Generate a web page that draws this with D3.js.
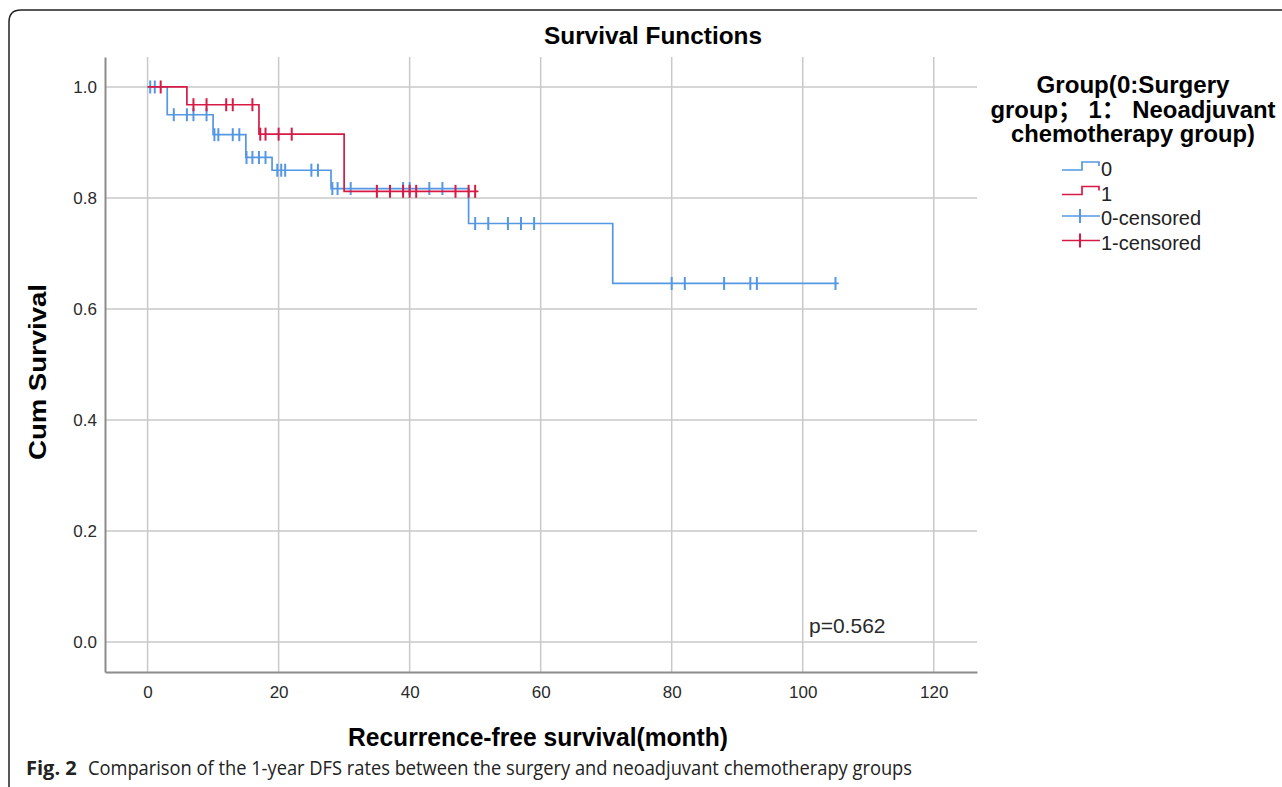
<!DOCTYPE html>
<html>
<head>
<meta charset="utf-8">
<script src="https://cdn.jsdelivr.net/npm/d3@7"></script>
<style>
  body { margin: 0; background: #fff; }
  svg { display: block; }
</style>
</head>
<body>
<div id="chart"></div>
<script>
// group 0 = surgery, group 1 = neoadjuvant chemotherapy
const group0Times = [0, 3, 10, 15, 19, 28, 49, 71];
const group0Surv = [1.0, 0.95, 0.914, 0.873, 0.85, 0.817, 0.754, 0.646];
const group0LastTime = 105.5;
const group0Censored = [0.4, 1.1, 4, 6, 7, 9, 10.2, 10.8, 13, 14, 15.1, 16, 17, 18, 19.8, 20.4, 21, 25, 26,
  28.2, 29, 31, 39, 40, 43, 45, 50, 52, 55, 57, 59, 80, 82, 88, 92, 93, 105];

const group1Times = [0, 6, 17, 30];
const group1Surv = [1.0, 0.968, 0.915, 0.812];
const group1LastTime = 50.5;
const group1Censored = [2, 7, 9, 12, 13, 16, 17.2, 18, 20, 22, 35, 37, 39, 40, 41, 47, 49, 50];

const xTicks = [0, 20, 40, 60, 80, 100, 120];
const yTicks = [0, 0.2, 0.4, 0.6, 0.8, 1.0];
const legendTitleLines = ['Group(0:Surgery', 'group； 1： Neoadjuvant', 'chemotherapy group)'];
const legendLabels = ['0', '1', '0-censored', '1-censored'];
const pValueText = 'p=0.562';

const width = 1282;
const height = 787;
const blue = '#5497e3';
const red = '#d71a45';
const font = '"Liberation Sans", Arial, "Noto Sans CJK SC", sans-serif';

const svg = d3.select('#chart').append('svg')
  .attr('width', width)
  .attr('height', height)
  .style('font-family', font);

// caption frame (rounded corner at top-left)
svg.append('path')
  .attr('d', 'M9,787 V22 Q9,10 21,10 H1282')
  .attr('fill', 'none')
  .attr('stroke', '#222')
  .attr('stroke-width', 1.5);

const x = d3.scaleLinear().domain([-6.5, 126.6]).range([105, 977]);
const y = d3.scaleLinear().domain([-0.054, 1.054]).range([672, 57]);

// grid
svg.append('g').selectAll('line')
  .data(xTicks)
  .enter().append('line')
  .attr('x1', d => x(d)).attr('x2', d => x(d))
  .attr('y1', y.range()[1]).attr('y2', y.range()[0])
  .attr('stroke', '#c9c9c9')
  .attr('stroke-width', 1.5);

svg.append('g').selectAll('line')
  .data(yTicks)
  .enter().append('line')
  .attr('x1', x.range()[0]).attr('x2', x.range()[1])
  .attr('y1', d => y(d)).attr('y2', d => y(d))
  .attr('stroke', '#c9c9c9')
  .attr('stroke-width', 1.5);

// axes
const xAxis = svg.append('g')
  .attr('transform', `translate(0,${y.range()[0]})`)
  .call(d3.axisBottom(x).tickValues(xTicks).tickSize(0).tickPadding(14).tickFormat(d3.format('d')));

const yAxis = svg.append('g')
  .attr('transform', `translate(${x.range()[0]},0)`)
  .call(d3.axisLeft(y).tickValues(yTicks).tickSize(0).tickPadding(8).tickFormat(d3.format('.1f')));

[xAxis, yAxis].forEach(a => {
  a.select('.domain').attr('stroke', '#8c8c8c').attr('stroke-width', 2);
  a.selectAll('text')
    .style('font-family', font)
    .style('font-size', '17px')
    .attr('fill', '#2a2a2a');
});

// survival curves
function stepPoints(times, surv, last) {
  const pts = times.map((t, i) => [t, surv[i]]);
  pts.push([last, surv[surv.length - 1]]);
  return pts;
}

function survAt(times, surv, t) {
  return surv[d3.bisectRight(times, t) - 1];
}

const line = d3.line()
  .x(d => x(d[0]))
  .y(d => y(d[1]))
  .curve(d3.curveStepAfter);

const groups = [
  { times: group0Times, surv: group0Surv, last: group0LastTime, censored: group0Censored, color: blue },
  { times: group1Times, surv: group1Surv, last: group1LastTime, censored: group1Censored, color: red }
];

groups.forEach(g => {
  svg.append('path')
    .datum(stepPoints(g.times, g.surv, g.last))
    .attr('d', line)
    .attr('fill', 'none')
    .attr('stroke', g.color)
    .attr('stroke-width', 1.7);

  svg.append('g').selectAll('line')
    .data(g.censored)
    .enter().append('line')
    .attr('x1', d => x(d)).attr('x2', d => x(d))
    .attr('y1', d => y(survAt(g.times, g.surv, d)) - 6.5)
    .attr('y2', d => y(survAt(g.times, g.surv, d)) + 6.5)
    .attr('stroke', g.color)
    .attr('stroke-width', 2);
});

// p value
svg.append('text')
  .attr('x', 809)
  .attr('y', 633)
  .style('font-size', '21px')
  .attr('fill', '#2a2a2a')
  .text(pValueText);

// titles
svg.append('text')
  .attr('x', 653)
  .attr('y', 44)
  .attr('text-anchor', 'middle')
  .style('font-size', '24px')
  .style('font-weight', 'bold')
  .attr('textLength', 218)
  .attr('lengthAdjust', 'spacingAndGlyphs')
  .text('Survival Functions');

svg.append('text')
  .attr('transform', 'translate(46,372) rotate(-90)')
  .attr('text-anchor', 'middle')
  .style('font-size', '24px')
  .style('font-weight', 'bold')
  .attr('textLength', 176)
  .attr('lengthAdjust', 'spacingAndGlyphs')
  .text('Cum Survival');

svg.append('text')
  .attr('x', 538)
  .attr('y', 746)
  .attr('text-anchor', 'middle')
  .style('font-size', '25px')
  .style('font-weight', 'bold')
  .attr('textLength', 380)
  .attr('lengthAdjust', 'spacingAndGlyphs')
  .text('Recurrence-free survival(month)');

// legend
const legendTitleWidths = [193, 285, 244];
svg.append('g').selectAll('text')
  .data(legendTitleLines)
  .enter().append('text')
  .attr('x', 1133)
  .attr('y', (d, i) => 93 + i * 24.5)
  .attr('text-anchor', 'middle')
  .style('font-size', '24px')
  .style('font-weight', 'bold')
  .attr('textLength', (d, i) => legendTitleWidths[i])
  .attr('lengthAdjust', 'spacingAndGlyphs')
  .text(d => d);

const legendColors = [blue, red, blue, red];
const legendItem = svg.append('g').selectAll('g')
  .data(legendLabels)
  .enter().append('g')
  .attr('transform', (d, i) => `translate(1062,${176 + i * 24.5})`);

legendItem.each(function (d, i) {
  const g = d3.select(this);
  if (i < 2) {
    g.append('path')
      .attr('d', 'M0,-6 H20 V-14 H37 V-10')
      .attr('fill', 'none')
      .attr('stroke', legendColors[i])
      .attr('stroke-width', 1.7);
  } else {
    g.append('line')
      .attr('x1', 0).attr('x2', 38)
      .attr('y1', -9).attr('y2', -9)
      .attr('stroke', legendColors[i])
      .attr('stroke-width', 1.7);
    g.append('line')
      .attr('x1', 18).attr('x2', 18)
      .attr('y1', -16).attr('y2', -2)
      .attr('stroke', legendColors[i])
      .attr('stroke-width', 2);
  }
  g.append('text')
    .attr('x', 39)
    .attr('y', 0)
    .style('font-size', '20px')
    .attr('fill', '#222')
    .text(d);
});

// figure caption
const caption = svg.append('text')
  .attr('x', 26)
  .attr('y', 775)
  .style('font-family', '"Open Sans", "Noto Sans", sans-serif')
  .style('font-size', '20px')
  .attr('fill', '#222');
caption.append('tspan')
  .style('font-weight', 'bold')
  .text('Fig. 2');
caption.append('tspan')
  .attr('x', 88)
  .attr('textLength', 824)
  .attr('lengthAdjust', 'spacingAndGlyphs')
  .text('Comparison of the 1-year DFS rates between the surgery and neoadjuvant chemotherapy groups');
</script>
</body>
</html>
